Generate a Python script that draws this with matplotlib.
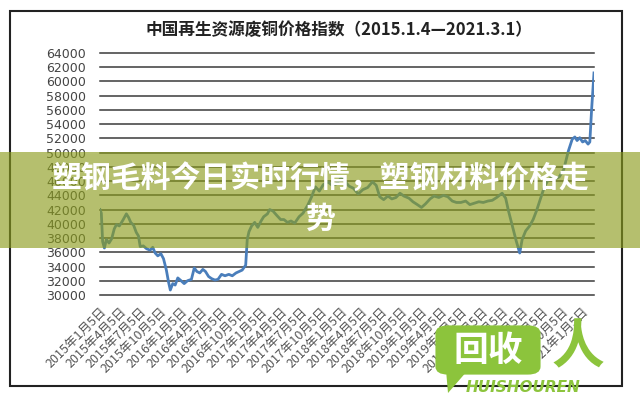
import matplotlib
matplotlib.use("Agg")
import matplotlib.pyplot as plt
from matplotlib.patches import Rectangle, FancyBboxPatch, Polygon
import pandas as pd

plt.rcParams['font.family'] = ['Noto Sans CJK SC', 'DejaVu Sans']

# copper scrap price index
dates = [
    '2015-01-04', '2015-01-10', '2015-01-16', '2015-01-24', '2015-02-02', '2015-02-14',
    '2015-02-26', '2015-03-10', '2015-03-20', '2015-04-02', '2015-04-18', '2015-05-04',
    '2015-05-14', '2015-05-24', '2015-06-06', '2015-06-18', '2015-06-28', '2015-07-06',
    '2015-07-20', '2015-08-04', '2015-08-20', '2015-09-01', '2015-09-12', '2015-09-24',
    '2015-10-08', '2015-10-20', '2015-11-02', '2015-11-12', '2015-11-20', '2015-12-01',
    '2015-12-12', '2015-12-24', '2016-01-08', '2016-01-22', '2016-02-06', '2016-02-24',
    '2016-03-08', '2016-03-20', '2016-04-02', '2016-04-16', '2016-04-28', '2016-05-12',
    '2016-05-26', '2016-06-10', '2016-06-24', '2016-07-10', '2016-07-26', '2016-08-12',
    '2016-08-28', '2016-09-14', '2016-09-28', '2016-10-12', '2016-10-28', '2016-11-04',
    '2016-11-12', '2016-11-24', '2016-12-08', '2016-12-22', '2017-01-06', '2017-01-18',
    '2017-02-04', '2017-02-14', '2017-03-01', '2017-03-18', '2017-04-05', '2017-04-20',
    '2017-05-06', '2017-05-22', '2017-06-08', '2017-06-28', '2017-07-16', '2017-08-06',
    '2017-08-24', '2017-09-10', '2017-09-28', '2017-10-16', '2017-11-06', '2017-11-26',
    '2017-12-14', '2018-01-04', '2018-01-22', '2018-02-10', '2018-03-02', '2018-03-24',
    '2018-04-14', '2018-05-06', '2018-05-28', '2018-06-14', '2018-06-30', '2018-07-18',
    '2018-08-06', '2018-08-24', '2018-09-12', '2018-09-30', '2018-10-18', '2018-11-10',
    '2018-11-28', '2018-12-18', '2019-01-06', '2019-01-24', '2019-02-14', '2019-03-04',
    '2019-03-26', '2019-04-16', '2019-05-06', '2019-05-26', '2019-06-14', '2019-07-04',
    '2019-07-26', '2019-08-14', '2019-09-04', '2019-09-24', '2019-10-14', '2019-11-04',
    '2019-11-24', '2019-12-14', '2020-01-08', '2020-01-24', '2020-02-06', '2020-02-26',
    '2020-03-12', '2020-03-28', '2020-04-08', '2020-04-24', '2020-05-12', '2020-05-28',
    '2020-06-12', '2020-06-28', '2020-07-14', '2020-07-30', '2020-08-18', '2020-09-06',
    '2020-09-24', '2020-10-14', '2020-11-04', '2020-11-22', '2020-12-04', '2020-12-14',
    '2020-12-26', '2021-01-08', '2021-01-20', '2021-02-02', '2021-02-10', '2021-02-18',
    '2021-03-01',
]
values = [
    42000, 41500, 37500, 36600, 37800, 37300,
    37900, 39300, 39900, 39700, 40500, 41400,
    40900, 40200, 39800, 38800, 38300, 36800,
    36900, 36500, 36300, 36700, 35900, 35500,
    35800, 35100, 33500, 31800, 30700, 31600,
    31400, 32400, 32000, 31600, 32000, 32200,
    33800, 33300, 33100, 33600, 33300, 32600,
    32300, 32100, 32200, 32900, 32700, 32900,
    32700, 33100, 33300, 33500, 34200, 37800,
    38900, 39700, 40200, 39500, 40400, 41000,
    41400, 42000, 41800, 41200, 40600, 40600,
    40200, 40400, 40100, 41000, 41500, 42600,
    43800, 45200, 44600, 45500, 45900, 45400,
    45600, 46400, 46000, 45300, 45000, 44200,
    44800, 45100, 45900, 45400, 43800, 43400,
    43900, 43500, 43700, 44300, 43900, 43600,
    43100, 42700, 42300, 42800, 43500, 43900,
    43700, 44000, 43800, 43200, 43000, 43000,
    43200, 42700, 42900, 43100, 43000, 43200,
    43300, 43700, 44300, 43600, 41800, 39400,
    37600, 35900, 37800, 39000, 39700, 40600,
    41800, 43300, 44800, 45900, 46500, 46300,
    46600, 47600, 50200, 51900, 52200, 51700,
    52100, 51500, 51700, 51200, 51500, 56000,
    61200,
]

title = '中国再生资源废铜价格指数（2015.1.4—2021.3.1）'
banner = '塑钢毛料今日实时行情，塑钢材料价格走\n势'
y_ticks = list(range(30000, 64001, 2000))
tick_dates = [f'{y}-{m:02d}-05' for y in range(2015, 2022) for m in (1, 4, 7, 10)][:25]
tick_labels = [f'{d[:4]}年{int(d[5:7])}月5日' for d in tick_dates]

green = '#8cc43c'

fig = plt.figure(figsize=(6.4, 4.0), dpi=100)
fig.patch.set_facecolor('white')

ax = fig.add_axes([100 / 640, 105 / 400, 494 / 640, 242 / 400])
x = pd.to_datetime(dates)
ax.plot(x, values, color='#4a7ebb', lw=2.0, zorder=3)

ax.set_xlim(pd.Timestamp('2015-01-04'), pd.Timestamp('2021-03-01'))
ax.set_ylim(30000, 64000)
for v in y_ticks:
    ax.axhline(v, color='#3a3a3a', lw=1.1, clip_on=False, zorder=1)
ax.set_yticks(y_ticks)
ax.set_yticklabels([str(v) for v in y_ticks], family='DejaVu Sans', fontsize=9, color='#444444')
ax.set_xticks(pd.to_datetime(tick_dates))
ax.set_xticklabels(tick_labels, rotation=45, ha='right', va='top',
                   rotation_mode='anchor', fontsize=9, color='#555555')
ax.tick_params(axis='y', length=0, pad=10)
ax.tick_params(axis='x', length=0, pad=7)
for s in ax.spines.values():
    s.set_visible(False)

# outer frame and title
fig.add_artist(Rectangle((10 / 640, 14 / 400), 612 / 640, 375 / 400, transform=fig.transFigure,
                         fill=False, ec='#222222', lw=1.5, zorder=2))
fig.text(339 / 640, 1 - 30 / 400, title, ha='center', va='center',
         fontsize=12, fontweight='bold', color='#222222')

# translucent banner over the chart
fig.add_artist(Rectangle((0, 1 - 248 / 400), 1, 96 / 400, transform=fig.transFigure,
                         fc=(139 / 255, 156 / 255, 28 / 255, 0.64), ec='none', zorder=5))
fig.text(321 / 640, 1 - 198 / 400, banner, ha='center', va='center', multialignment='center',
         linespacing=1.45, fontsize=21.5, fontweight='bold', color='white', zorder=6)

# watermark logo
fig.add_artist(FancyBboxPatch((438 / 640, 1 - 373 / 400), 100 / 640, 46 / 400,
                              boxstyle='round,pad=0.004,rounding_size=0.02',
                              transform=fig.transFigure, fc=green, ec='none', zorder=7))
fig.add_artist(Polygon([(446 / 640, 1 - 370 / 400), (468 / 640, 1 - 370 / 400), (448 / 640, 1 - 393 / 400)],
                       closed=True, transform=fig.transFigure, fc=green, ec='none', zorder=7))
fig.text(488 / 640, 1 - 350 / 400, '回收', ha='center', va='center', fontsize=25,
         fontweight='heavy', color='white', zorder=8)
fig.text(523 / 640, 1 - 387 / 400, 'HUISHOUREN', ha='center', va='center', fontsize=11,
         family='DejaVu Sans', fontweight='bold', style='italic', color=green, zorder=8)
fig.text(578 / 640, 1 - 348 / 400, '人', ha='center', va='center', fontsize=38,
         fontweight='bold', color=green, zorder=8)

fig.savefig('out.png', dpi=100)
